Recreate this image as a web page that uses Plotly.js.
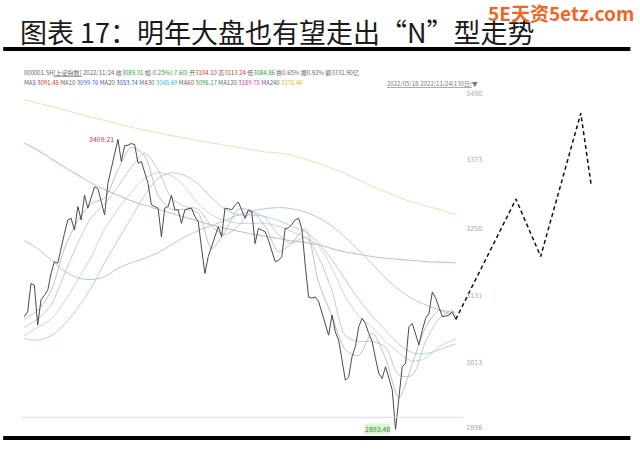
<!DOCTYPE html>
<html>
<head>
<meta charset="utf-8">
<script src="https://cdn.plot.ly/plotly-3.0.1.min.js"></script>
<style>html,body{margin:0;padding:0;background:#fff;}#chart{width:640px;height:450px;}</style>
</head>
<body>
<div id="chart"></div>
<script>
// ---- data ----
const closes = [3094,3103,3153,3150,3079,3124,3132,3141,3171,3192,
  3189,3218,3242,3266,3269,3248,3290,3266,3310,3287,
  3306,3325,3322,3300,3275,3331,3358,3385,3409.21,3370,
  3398,3399,3402,3400,3367,3370,3350,3331,3293,3290,
  3287,3236,3287,3290,3310,3284,3284,3260,3284,3286,
  3287,3272,3263,3216,3171,3201,3218,3236,3254,3236,
  3287,3286,3284,3292,3298,3284,3269,3284,3281,3224,
  3251,3248,3245,3230,3213,3192,3194,3201,3251,3252,
  3258,3266,3269,3250,3186,3129,3127,3129,3121,3100,
  3080,3061,3097,3067,3052,3017,2981,2987,3023,3041,
  3076,3091,3082,3064,3050,3020,2993,2984,3005,2985,
  2964,2893.48,2952,3005,3011,3076,3082,3064,3044,3070,
  3091,3100,3138,3127,3112,3094,3095,3097,3103,3089.31];

const projDays   = [129, 147, 154.4, 166.4, 169.5];
const projValues = [3089.31, 3303, 3201, 3456, 3328];

const maDays = [0,4,8,12,16,20,24,28,32,36,40,44,48,52,56,60,64,68,72,76,80,84,88,92,96,100,104,108,112,116,120,124,128,129];
const ma5   = [3090,3105,3140,3215,3265,3295,3305,3355,3395,3380,3310,3285,3285,3278,3215,3245,3285,3282,3255,3210,3225,3250,3155,3095,3035,3025,3065,3020,2950,3010,3075,3105,3100,3091.45];
const ma10  = [3075,3090,3115,3170,3225,3270,3295,3325,3360,3385,3355,3305,3290,3285,3255,3240,3255,3280,3270,3240,3225,3235,3200,3140,3060,3050,3050,3040,2990,2990,3050,3090,3105,3099.76];
const ma20  = [3060,3075,3090,3120,3160,3200,3250,3285,3315,3340,3350,3345,3325,3295,3275,3265,3260,3260,3260,3255,3245,3235,3220,3180,3130,3095,3075,3050,3030,3015,3020,3040,3052,3053.74];
const ma30  = [3055,3052,3060,3080,3110,3145,3190,3230,3270,3310,3340,3350,3345,3330,3305,3285,3275,3275,3272,3265,3255,3245,3225,3195,3160,3125,3095,3070,3045,3030,3028,3035,3044,3045.69];
const ma60  = [3230,3215,3195,3175,3163,3160,3165,3180,3190,3198,3208,3222,3236,3247,3256,3265,3275,3282,3286,3288,3286,3280,3270,3255,3235,3212,3188,3163,3142,3126,3115,3106,3097,3095.17];
const ma120 = [3403,3390,3375,3360,3346,3332,3320,3310,3300,3292,3285,3278,3271,3264,3257,3251,3246,3241,3237,3233,3229,3226,3222,3215,3209,3205,3201,3198,3196,3194,3192,3191,3190,3189.75];
const ma240 = [3480,3474,3468,3462,3455,3449,3443,3437,3431,3426,3421,3416,3412,3407,3403,3399,3395,3391,3387,3385,3381,3374,3367,3358,3348,3337,3326,3316,3306,3298,3291,3285,3277,3275.46];

const tickValues = [2896, 3013, 3131, 3250, 3373, 3490];
const tickLabels = ["2896", "3013", "3131", "3250", "3373", "3490"];
const baseLevel = 2915;

const days = closes.map((_, i) => i);
const maxIdx = closes.indexOf(Math.max(...closes));
const minIdx = closes.indexOf(Math.min(...closes));

function maTrace(vals, color, w) {
  return {x: maDays, y: vals, type: 'scatter', mode: 'lines',
    line: {color: color, width: w, shape: 'spline', smoothing: 0.8}, hoverinfo: 'skip'};
}

const traces = [
  maTrace(ma240, '#ece2bd', 1.1),
  maTrace(ma120, '#d2bbd0', 1.1),
  maTrace(ma60,  '#b3c8d8', 1.0),
  maTrace(ma30,  '#a9d3e6', 1.0),
  maTrace(ma20,  '#c6c6c6', 0.8),
  maTrace(ma10,  '#bababa', 0.8),
  maTrace(ma5,   '#a6a6a6', 0.7),
  {x: days, y: closes, type: 'scatter', mode: 'lines',
   line: {color: '#4a4a4a', width: 1.0}, hoverinfo: 'skip'},
  {x: projDays, y: projValues, type: 'scatter', mode: 'lines',
   line: {color: '#111', width: 1.5, dash: '4px,3px'}, hoverinfo: 'skip'}
];

const FONT = '"Noto Sans CJK SC", "Noto Sans", sans-serif';
const G = '#2e9a3a', R = '#d0342c';
const line1 = '000001.SH<span style="text-decoration:underline">[上证指数]</span> 2022/11/24 收<span style="color:'+G+'">3089.31</span> 幅<span style="color:'+G+'">-0.25%(-7.60)</span> 开<span style="color:'+R+'">3104.10</span> 高<span style="color:'+R+'">3113.24</span> 低<span style="color:'+G+'">3084.86</span> 换0.65% 振0.92% 额3331.90亿';
const line2 = 'MA5 <span style="color:#d4322c">3091.45</span> MA10 <span style="color:#3f6fd0">3099.76</span> MA20 <span style="color:#3c4fb0">3053.74</span> MA30 <span style="color:#35b6dc">3045.69</span> MA60 <span style="color:#2ea43a">3095.17</span> MA120 <span style="color:#c63cc6">3189.75</span> MA240 <span style="color:#e2b52c">3275.46</span>';

const layout = {
  width: 640, height: 450,
  margin: {l: 0, r: 0, t: 0, b: 0},
  paper_bgcolor: '#ffffff', plot_bgcolor: '#ffffff',
  showlegend: false,
  xaxis: {range: [-7.27, 184.1], showgrid: false, zeroline: false, showticklabels: false, showline: false, fixedrange: true},
  yaxis: {range: [2856.9, 3657.2], showgrid: false, zeroline: false, showline: false,
    anchor: 'free', position: 0.727, side: 'right', ticks: '',
    tickvals: tickValues, ticktext: tickLabels, automargin: false,
    tickfont: {family: '"DejaVu Sans Condensed", "Liberation Sans Narrow", sans-serif', size: 7, color: '#a8a8a8'}},
  shapes: [
    {type: 'line', xref: 'paper', yref: 'paper', x0: 0.005, x1: 0.985, y0: 1 - 49/450, y1: 1 - 49/450, line: {color: '#000', width: 4}},
    {type: 'line', xref: 'paper', yref: 'paper', x0: 0.005, x1: 0.985, y0: 1 - 438/450, y1: 1 - 438/450, line: {color: '#000', width: 4}},
    {type: 'line', xref: 'paper', yref: 'y', x0: 22/640, x1: 463/640, y0: baseLevel, y1: baseLevel, line: {color: '#dcdcdc', width: 1}}
  ],
  annotations: [
    {xref: 'paper', yref: 'paper', x: 18/640, y: 1 - 31/450, xanchor: 'left', yanchor: 'middle', showarrow: false,
     text: '图表 17：明年大盘也有望走出“N”型走势', font: {family: FONT, size: 27, color: '#1a1a1a'}},
    {xref: 'paper', yref: 'paper', x: 636/640, y: 1 - 13/450, xanchor: 'right', yanchor: 'middle', showarrow: false,
     text: '<b>5E天资5etz.com</b>', font: {family: FONT, size: 19, color: '#f0651f'}},
    {xref: 'paper', yref: 'paper', x: 22/640, y: 1 - 72/450, xanchor: 'left', yanchor: 'middle', showarrow: false,
     text: line1, font: {family: FONT, size: 6, color: '#666'}},
    {xref: 'paper', yref: 'paper', x: 22/640, y: 1 - 83/450, xanchor: 'left', yanchor: 'middle', showarrow: false,
     text: line2, font: {family: FONT, size: 6, color: '#666'}},
    {xref: 'paper', yref: 'paper', x: 480/640, y: 1 - 84/450, xanchor: 'right', yanchor: 'middle', showarrow: false,
     text: '<span style="text-decoration:underline">2022/05/18-2022/11/24(130日)</span>▼', font: {family: FONT, size: 6, color: '#777'}},
    {x: days[maxIdx], y: closes[maxIdx], xanchor: 'right', yanchor: 'middle', xshift: -2, showarrow: false,
     text: closes[maxIdx].toFixed(2), font: {family: FONT, size: 7, color: '#c8383a'}},
    {x: days[minIdx], y: closes[minIdx], xanchor: 'right', yanchor: 'middle', xshift: -5, showarrow: false,
     text: closes[minIdx].toFixed(2), bgcolor: '#dff3d6', borderpad: 0, font: {family: FONT, size: 7, color: '#2f8f34'}}
  ]
};

Plotly.newPlot('chart', traces, layout, {staticPlot: true, displayModeBar: false});
</script>
</body>
</html>
